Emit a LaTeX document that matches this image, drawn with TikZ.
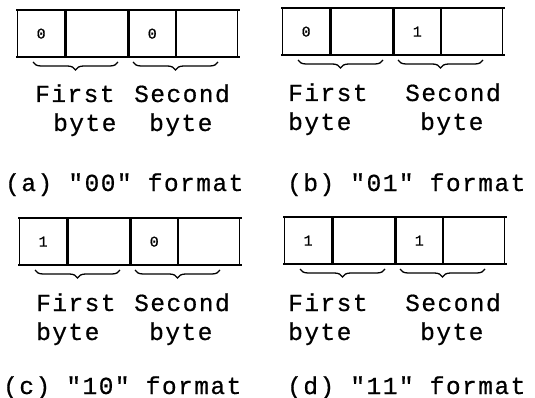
\documentclass[tikz,border=0pt]{standalone}
\usepackage{fontspec}
\newfontfamily\tw[LetterSpace=6,FakeBold=0.6]{Liberation Mono}
\usetikzlibrary{decorations.pathreplacing}
\newcommand\fmtpanel[5]{%
  \node[cell, minimum width=47pt] (#1c1) at (#2,#3) {#4};
  \node[cell, minimum width=62pt] (#1c2) at (#1c1.north east) {};
  \node[cell, minimum width=46pt] (#1c3) at (#1c2.north east) {#5};
  \node[cell, minimum width=61pt] (#1c4) at (#1c3.north east) {};
  \draw[rule] ([xshift=-1pt]#1c1.north west) -- ([xshift=2pt]#1c4.north east);
  \draw[rule] ([xshift=-1pt]#1c1.south west) -- ([xshift=2pt]#1c4.south east);
  \coordinate (#1b1s) at (#2+16,#3+52);
  \coordinate (#1b1e) at (#2+101,#3+52);
  \coordinate (#1b2s) at (#2+116,#3+52);
  \coordinate (#1b2e) at (#2+201,#3+52);
  \draw[bytebrace] (#1b1s) -- (#1b1e);
  \draw[bytebrace] (#1b2s) -- (#1b2e);
}
\begin{document}
\begin{tikzpicture}[x=1pt,y=-1pt,
  cell/.style={draw, line width=1.3pt, minimum height=46pt, inner sep=0pt,
    anchor=north west, font=\tw\fontsize{15}{15}\selectfont},
  rule/.style={line width=1.8pt},
  bytebrace/.style={decorate, line width=1.3pt,
    decoration={brace, mirror, amplitude=8pt}},
  lbl/.style={anchor=base west, inner sep=0pt, font=\tw\fontsize{24.5}{24.5}\selectfont}]
\useasboundingbox (0,0) rectangle (535,398);
\fmtpanel{a}{17}{10}{0}{0}
\fmtpanel{b}{282}{8}{0}{1}
\fmtpanel{c}{19}{218}{1}{0}
\fmtpanel{d}{284}{217}{1}{1}
% (a)
\node[lbl] (af) at (35,102) {First};
\node[lbl] (as) at (134,102) {Second};
\node[lbl] (ab1) at (53,131) {byte};
\node[lbl] (ab2) at (149,131) {byte};
\node[lbl] (acap) at (5,191) {(a) "00" format};
% (b)
\node[lbl] (bf) at (288,101) {First};
\node[lbl] (bs) at (405,101) {Second};
\node[lbl] (bb1) at (288,130) {byte};
\node[lbl] (bb2) at (420,130) {byte};
\node[lbl] (bcap) at (287,191) {(b) "01" format};
% (c)
\node[lbl] (cf) at (36,311) {First};
\node[lbl] (cs) at (134,311) {Second};
\node[lbl] (cb1) at (36,340) {byte};
\node[lbl] (cb2) at (149,340) {byte};
\node[lbl] (ccap) at (3,394) {(c) "10" format};
% (d)
\node[lbl] (df) at (288,311) {First};
\node[lbl] (ds) at (405,311) {Second};
\node[lbl] (db1) at (288,340) {byte};
\node[lbl] (db2) at (420,340) {byte};
\node[lbl] (dcap) at (287,394) {(d) "11" format};
\end{tikzpicture}
\end{document}
